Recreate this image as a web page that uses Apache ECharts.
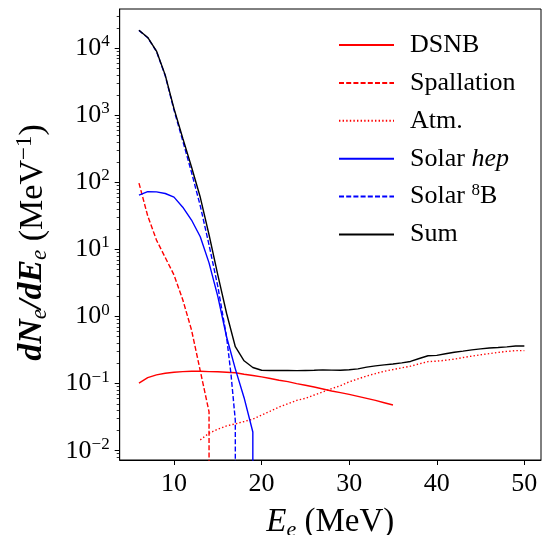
<!DOCTYPE html>
<html><head><meta charset="utf-8">
<script src="https://cdn.jsdelivr.net/npm/echarts@6/dist/echarts.min.js"></script>
<style>html,body{margin:0;padding:0;background:#fff}#c{width:543px;height:535px}</style>
</head><body><div id="c"></div>
<script>
// ---- data (E in MeV, dN/dE in MeV^-1) ----
const sumE = [6,7,8,9,10,11,12,13,14,15,16,17,18,19,20,21,22,23,24,25,26,27,28,29,30,31,32,33,34,35,36,37,38,39,40,41,42,43,44,45,46,47,48,49,50];
const sumV = [18600,14500,9100,3980,1260,457,170,60,16.6,4.17,1.12,0.355,0.219,0.174,0.158,0.157,0.157,0.157,0.156,0.157,0.158,0.160,0.159,0.158,0.161,0.166,0.176,0.184,0.190,0.196,0.204,0.214,0.237,0.260,0.264,0.279,0.294,0.305,0.318,0.329,0.339,0.345,0.353,0.363,0.363];
const dsnbE = [6,7,8,9,10,11,12,13,14,15,16,17,18,19,20,21,22,23,24,25,26,27,28,29,30,31,32,33,34,35];
const dsnbV = [0.102,0.123,0.135,0.143,0.148,0.151,0.153,0.153,0.151,0.150,0.148,0.145,0.138,0.132,0.126,0.119,0.112,0.107,0.100,0.0944,0.0891,0.0832,0.0776,0.0733,0.0692,0.0646,0.0603,0.0562,0.0519,0.0479];
const spallE = [6,7,8,9,10,11,12,13,14,14.02];
const spallV = [97.7,31.6,13.8,7.59,4.17,1.78,0.631,0.155,0.038,1e-9];
const atmE = [13,14,15,16,17,18,19,20,21,22,23,24,25,26,27,28,29,30,31,32,33,34,35,36,37,38,39,40,41,42,43,44,45,46,47,48,49,50];
const atmV = [0.0145,0.0182,0.0209,0.0234,0.0251,0.0272,0.0295,0.0339,0.0389,0.0447,0.0501,0.0562,0.0603,0.0676,0.075,0.0841,0.0933,0.106,0.1175,0.130,0.141,0.153,0.162,0.172,0.182,0.197,0.213,0.216,0.223,0.232,0.245,0.257,0.269,0.280,0.292,0.302,0.310,0.310];
const hepE = [6,7,8,9,10,11,12,13,14,15,16,17,18,19,19.02];
const hepV = [64.6,72.8,72.4,68.4,60.3,42.7,27.5,15.5,6.31,2.0,0.50,0.166,0.0617,0.019,1e-9];
const b8E = [6,7,8,9,10,11,12,13,14,15,16,16.5,17,17.02];
const b8V = [18500,14350,9000,3890,1200,417,141,44.7,11.7,2.82,0.50,0.141,0.0282,1e-9];
const xTicks = [10,20,30,40,50];
const yTicks = [1e-2,1e-1,1e0,1e1,1e2,1e3,1e4];
const names = ['DSNB','Spallation','Atm.','Solar hep','Solar 8B','Sum'];

const pairs = (xs, ys) => xs.map((x, i) => [x, ys[i]]);
const yMinor = [];
yTicks.forEach(t => { for (let k = 2; k <= 9; k++) yMinor.push(t * k); });
yMinor.unshift(9e-3, 8e-3);

const FONT = 'Liberation Serif';
const xMin = 3.8, xMax = 51.9, yMin = 0.00726, yMax = 38550;

function line(name, xs, ys, color, type, z) {
  return {
    name, type: 'line', data: pairs(xs, ys), showSymbol: false, symbol: 'none',
    lineStyle: { color, width: 1.4, type }, itemStyle: { color },
    clip: true, z, animation: false
  };
}

const chart = echarts.init(document.getElementById('c'), null, { renderer: 'canvas' });
chart.setOption({
  animation: false,
  backgroundColor: '#fff',
  grid: { left: 119.7, right: 2, top: 9, bottom: 75, show: true, borderColor: '#000', borderWidth: 1, containLabel: false, outerBoundsMode: 'none' },
  legend: {
    orient: 'vertical', left: 333, top: 25,
    itemWidth: 55, itemHeight: 12, itemGap: 7.9,
    itemStyle: { opacity: 0 },
    data: names,
    textStyle: {
      fontFamily: FONT, fontSize: 26, color: '#000', lineHeight: 30, padding: [0, 0, 0, 11],
      rich: {
        a: { fontFamily: FONT, fontSize: 26, lineHeight: 30 },
        i: { fontFamily: FONT, fontSize: 26, fontStyle: 'italic', lineHeight: 30 },
        s: { fontFamily: FONT, fontSize: 17, lineHeight: 20, verticalAlign: 'top' }
      }
    },
    formatter: n => n === 'Solar hep' ? '{a|Solar }{i|hep}' : (n === 'Solar 8B' ? '{a|Solar }{s|8}{a|B}' : '{a|' + n + '}')
  },
  xAxis: {
    type: 'value', min: xMin, max: xMax,
    axisLine: { show: true, lineStyle: { color: '#000', width: 1 } },
    axisTick: { show: true, inside: false, length: 5, customValues: xTicks, lineStyle: { color: '#000' } },
    axisLabel: { customValues: xTicks, fontFamily: FONT, fontSize: 26, color: '#000', margin: 11 },
    splitLine: { show: false },
    name: '{i|E}{sub|e}{r| (MeV)}', nameLocation: 'middle', nameGap: 43,
    nameTextStyle: {
      rich: {
        i: { fontFamily: FONT, fontSize: 33, fontStyle: 'italic', lineHeight: 38, color: '#000' },
        sub: { fontFamily: FONT, fontSize: 22, fontStyle: 'italic', lineHeight: 22, verticalAlign: 'bottom', color: '#000' },
        r: { fontFamily: FONT, fontSize: 33, lineHeight: 38, color: '#000' }
      }
    }
  },
  yAxis: [{
    type: 'log', logBase: 10, min: yMin, max: yMax,
    axisLine: { show: true, lineStyle: { color: '#000', width: 1 } },
    axisTick: { show: true, inside: false, length: 5, customValues: yTicks, lineStyle: { color: '#000' } },
    axisLabel: {
      customValues: yTicks, margin: 10,
      formatter: v => { const e = Math.round(Math.log10(v)); return '{b|10}{s|' + (e < 0 ? '\u2212' + (-e) : e) + '}'; },
      rich: {
        b: { fontFamily: FONT, fontSize: 26, lineHeight: 30, color: '#000' },
        s: { fontFamily: FONT, fontSize: 17, lineHeight: 20, verticalAlign: 'top', color: '#000' }
      }
    },
    splitLine: { show: false },
    name: '{i|dN}{sub|e}{i|/dE}{sub|e}{r| (MeV}{sup|\u22121}{r|)}', nameLocation: 'middle', nameRotate: 90, nameGap: 68,
    nameTextStyle: {
      padding: [0, 16, 0, 0],
      rich: {
        i: { fontFamily: FONT, fontSize: 34, fontStyle: 'italic', fontWeight: 'bold', lineHeight: 38, color: '#000' },
        sub: { fontFamily: FONT, fontSize: 23, fontStyle: 'italic', lineHeight: 22, verticalAlign: 'bottom', color: '#000' },
        sup: { fontFamily: FONT, fontSize: 23, lineHeight: 22, verticalAlign: 'top', color: '#000' },
        r: { fontFamily: FONT, fontSize: 34, lineHeight: 38, color: '#000' }
      }
    }
  }, {
    type: 'log', logBase: 10, min: yMin, max: yMax, position: 'left',
    axisLine: { show: false },
    axisTick: { show: true, inside: false, length: 3, customValues: yMinor, lineStyle: { color: '#000', width: 0.8 } },
    axisLabel: { show: false },
    splitLine: { show: false }
  }],
  series: [
    line('DSNB', dsnbE, dsnbV, '#ff0000', 'solid', 2),
    line('Spallation', spallE, spallV, '#ff0000', [5, 2.2], 3),
    line('Atm.', atmE, atmV, '#ff0000', [1.4, 2.2], 4),
    line('Solar hep', hepE, hepV, '#0000ff', 'solid', 5),
    line('Solar 8B', b8E, b8V, '#0000ff', [5, 2.2], 6),
    line('Sum', sumE, sumV, '#000000', 'solid', 7)
  ]
});
</script></body></html>
